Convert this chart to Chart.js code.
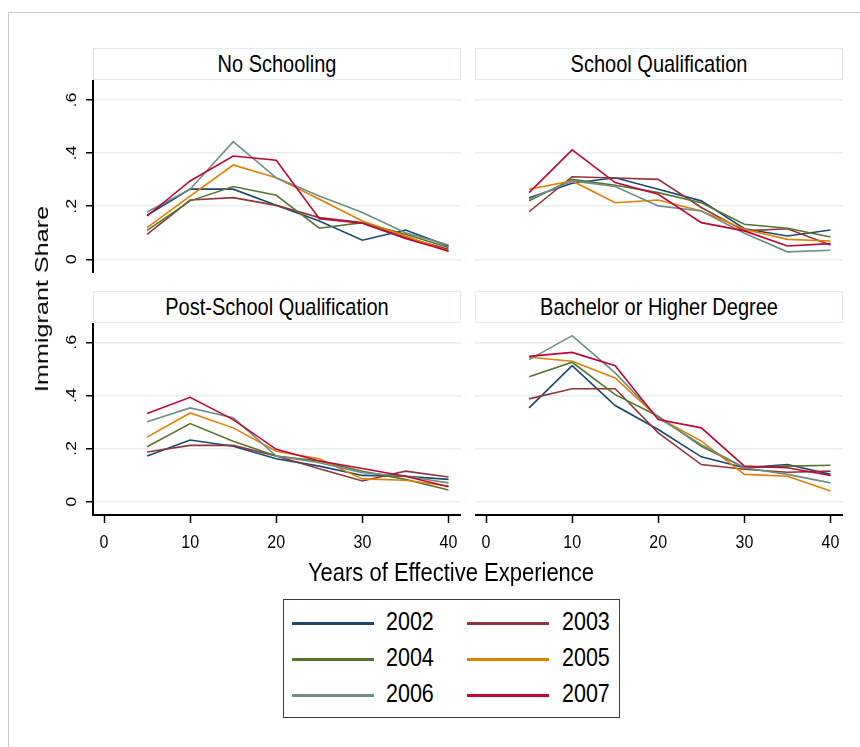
<!DOCTYPE html>
<html>
<head>
<meta charset="utf-8">
<script src="https://cdn.jsdelivr.net/npm/chart.js@4.4.1/dist/chart.umd.min.js"></script>
<style>
  body { margin: 0; background: #fff; }
  #page { position: relative; width: 860px; height: 747px; overflow: hidden; background: #fff;
          font-family: "Liberation Sans", Arial, sans-serif; color: #000; }
  .frame { position: absolute; left: 8px; top: 12px; right: -2px; bottom: -2px;
           border-top: 1.5px solid #c8c8c8; border-left: 1.5px solid #c8c8c8; }
  canvas { position: absolute; }
  .strip { position: absolute; box-sizing: border-box; border: 1.5px solid #e3ecee; background: #fff; }
  .txt { position: absolute; white-space: nowrap; line-height: 1; }
  .center { transform: translate(-50%, -50%) scaleY(1.2); }
  .left { transform: translateY(-50%) scaleY(1.2); transform-origin: left center; }
  #legend { position: absolute; left: 283px; top: 599px; width: 337px; height: 119px;
            box-sizing: border-box; border: 1.5px solid #3a3a3a; }
  .swatch { position: absolute; height: 3px; }
</style>
</head>
<body>
<div id="page">
  <div class="frame"></div>
  <canvas id="p1" width="421" height="193" style="left:40px;top:80px"></canvas>
  <canvas id="p2" width="368" height="193" style="left:475px;top:80px"></canvas>
  <canvas id="p3" width="421" height="237" style="left:40px;top:323px"></canvas>
  <canvas id="p4" width="368" height="237" style="left:475px;top:323px"></canvas>
  <div id="legend"></div>
</div>
<script>
// experience (x) values
const experience = [5, 10, 15, 20, 25, 30, 35, 40];
const years = ['2002', '2003', '2004', '2005', '2006', '2007'];
const yearColors = ['#1a476f', '#90353b', '#55752f', '#e37e00', '#6e8e84', '#c10534'];
const panelTitles = ['No Schooling', 'School Qualification', 'Post-School Qualification', 'Bachelor or Higher Degree'];
const xTicks = [0, 10, 20, 30, 40];
const xTickLabels = ['0', '10', '20', '30', '40'];
const yTicks = [0, 0.2, 0.4, 0.6];
const yTickLabels = ['0', '.2', '.4', '.6'];
const xTitle = 'Years of Effective Experience';
const yTitle = 'Immigrant Share';

// one row per year, 2002 .. 2007
const noSchooling = [
  [0.166, 0.264, 0.264, 0.203, 0.144, 0.072, 0.110, 0.050],
  [0.094, 0.223, 0.232, 0.203, 0.157, 0.138, 0.082, 0.038],
  [0.109, 0.220, 0.274, 0.241, 0.117, 0.138, 0.094, 0.044],
  [0.119, 0.238, 0.355, 0.307, 0.226, 0.144, 0.088, 0.029],
  [0.178, 0.264, 0.443, 0.307, 0.238, 0.176, 0.100, 0.054],
  [0.163, 0.295, 0.389, 0.373, 0.153, 0.136, 0.078, 0.031]
];
const schoolQual = [
  [0.232, 0.286, 0.307, 0.264, 0.220, 0.115, 0.088, 0.110],
  [0.179, 0.311, 0.306, 0.301, 0.195, 0.107, 0.115, 0.054],
  [0.220, 0.301, 0.279, 0.251, 0.213, 0.132, 0.117, 0.084],
  [0.264, 0.295, 0.213, 0.223, 0.182, 0.113, 0.075, 0.069],
  [0.226, 0.295, 0.274, 0.201, 0.182, 0.098, 0.028, 0.034],
  [0.251, 0.412, 0.289, 0.245, 0.138, 0.107, 0.050, 0.059]
];
const postSchool = [
  [0.172, 0.232, 0.209, 0.162, 0.134, 0.099, 0.096, 0.084],
  [0.187, 0.212, 0.212, 0.172, 0.124, 0.078, 0.115, 0.093],
  [0.207, 0.294, 0.228, 0.172, 0.153, 0.115, 0.084, 0.044],
  [0.243, 0.334, 0.278, 0.190, 0.162, 0.086, 0.081, 0.059],
  [0.301, 0.353, 0.316, 0.172, 0.147, 0.109, 0.096, 0.071],
  [0.332, 0.393, 0.309, 0.197, 0.153, 0.125, 0.096, 0.056]
];
const bachelor = [
  [0.353, 0.512, 0.362, 0.272, 0.169, 0.128, 0.140, 0.103],
  [0.387, 0.425, 0.425, 0.259, 0.140, 0.122, 0.111, 0.115],
  [0.470, 0.525, 0.403, 0.322, 0.209, 0.128, 0.134, 0.137],
  [0.544, 0.529, 0.466, 0.316, 0.228, 0.103, 0.096, 0.040],
  [0.535, 0.625, 0.485, 0.316, 0.215, 0.128, 0.103, 0.071],
  [0.547, 0.562, 0.512, 0.309, 0.278, 0.134, 0.128, 0.099]
];

const page = document.getElementById('page');

function addText(str, x, y, size, cls) {
  const d = document.createElement('div');
  d.className = 'txt ' + cls;
  d.style.left = x + 'px';
  d.style.top = y + 'px';
  d.style.fontSize = size + 'px';
  d.textContent = str;
  page.appendChild(d);
  return d;
}

// Stata-look tick labels: stretched a bit vertically, y labels turned
const stretchedTicks = {
  id: 'stretchedTicks',
  afterDraw(chart, args, opts) {
    const ctx = chart.ctx;
    ctx.save();
    ctx.fillStyle = '#000';
    ctx.textAlign = 'center';
    ctx.textBaseline = 'middle';
    if (opts.showX) {
      const xs = chart.scales.x;
      ctx.font = '16px "Liberation Sans", Arial, sans-serif';
      xTicks.forEach((v, i) => {
        ctx.save();
        ctx.translate(xs.getPixelForValue(v), xs.top + 28);
        ctx.scale(1, 1.2);
        ctx.fillText(xTickLabels[i], 0, 0);
        ctx.restore();
      });
    }
    if (opts.showY) {
      const ys = chart.scales.y;
      ctx.font = '15px "Liberation Sans", Arial, sans-serif';
      yTicks.forEach((v, i) => {
        ctx.save();
        ctx.translate(ys.right - 21, ys.getPixelForValue(v));
        ctx.rotate(-Math.PI / 2);
        ctx.scale(1.2, 1);
        ctx.fillText(yTickLabels[i], 0, 0);
        ctx.restore();
      });
    }
    ctx.restore();
  }
};

function makePanel(id, rows, showX, showY, yMin, yMax) {
  return new Chart(document.getElementById(id), {
    type: 'line',
    data: {
      datasets: rows.map((vals, i) => ({
        label: years[i],
        data: vals.map((v, j) => ({ x: experience[j], y: v })),
        borderColor: yearColors[i],
        borderWidth: 1.6,
        pointRadius: 0,
        tension: 0,
        fill: false,
        order: rows.length - i
      }))
    },
    options: {
      responsive: false,
      animation: false,
      layout: { padding: 0, autoPadding: false },
      plugins: {
        legend: { display: false },
        tooltip: { enabled: false },
        stretchedTicks: { showX: showX, showY: showY }
      },
      scales: {
        x: {
          type: 'linear',
          min: -1.28,
          max: 41.45,
          display: showX,
          afterBuildTicks: s => { s.ticks = xTicks.map(v => ({ value: v })); },
          afterFit: s => { s.height = showX ? 45 : 0; },
          grid: { display: true, drawOnChartArea: false, drawTicks: true, tickLength: 8,
                  tickColor: '#000', tickWidth: 1.5 },
          border: { display: true, color: '#000', width: 2 },
          ticks: { display: false }
        },
        y: {
          type: 'linear',
          min: yMin,
          max: yMax,
          afterBuildTicks: s => { s.ticks = yTicks.map(v => ({ value: v })); },
          afterFit: s => { s.width = showY ? 53 : 0; },
          grid: { display: true, drawOnChartArea: true, color: '#e6eef0', lineWidth: 1.5,
                  drawTicks: showY, tickLength: 7, tickColor: '#000', tickWidth: 1.5 },
          border: { display: showY, color: '#000', width: 2 },
          ticks: { display: false }
        }
      }
    },
    plugins: [stretchedTicks]
  });
}

makePanel('p1', noSchooling, false, true, -0.0516, 0.675);
makePanel('p2', schoolQual, false, false, -0.0516, 0.675);
makePanel('p3', postSchool, true, true, -0.050, 0.6727);
makePanel('p4', bachelor, true, false, -0.050, 0.6727);

// panel title strips
const strips = [[93, 48], [475, 48], [93, 291], [475, 291]];
strips.forEach(([x, y], i) => {
  const s = document.createElement('div');
  s.className = 'strip';
  s.style.left = x + 'px';
  s.style.top = y + 'px';
  s.style.width = '368px';
  s.style.height = '32px';
  page.appendChild(s);
  addText(panelTitles[i], x + 184, y + 16, 20, 'center');
});

// axis titles
addText(xTitle, 451, 573, 22, 'center');
const yt = addText(yTitle, 42, 299, 18, '');
yt.style.transform = 'translate(-50%, -50%) rotate(-90deg) scaleX(1.4)';

// legend
const legend = document.getElementById('legend');
years.forEach((yr, i) => {
  const col = i % 2, row = Math.floor(i / 2);
  const cy = 23 + row * 36;
  const sw = document.createElement('div');
  sw.className = 'swatch';
  sw.style.left = (8 + col * 175) + 'px';
  sw.style.width = '82px';
  sw.style.top = (cy - 1) + 'px';
  sw.style.background = yearColors[i];
  legend.appendChild(sw);
  const t = document.createElement('div');
  t.className = 'txt left';
  t.style.left = (102 + col * 176) + 'px';
  t.style.top = cy + 'px';
  t.style.fontSize = '21.5px';
  t.textContent = yr;
  legend.appendChild(t);
});
</script>
</body>
</html>
